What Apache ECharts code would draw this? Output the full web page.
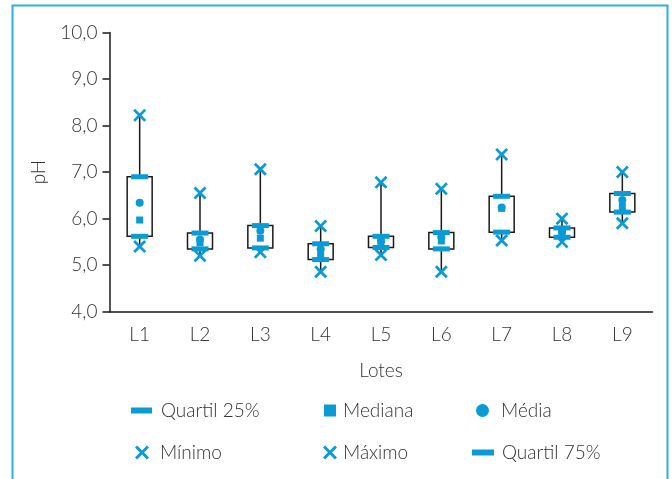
<!DOCTYPE html>
<html>
<head>
<meta charset="utf-8">
<script src="https://cdn.jsdelivr.net/npm/echarts@6/dist/echarts.min.js"></script>
<style>
  html, body { margin: 0; padding: 0; background: #fff; }
  #chart { width: 672px; height: 479px; }
</style>
</head>
<body>
<div id="chart"></div>
<script>
// lotes e valores de pH
var lotes = ['L1', 'L2', 'L3', 'L4', 'L5', 'L6', 'L7', 'L8', 'L9'];
var minimo   = [5.40, 5.20, 5.28, 4.86, 5.22, 4.86, 5.53, 5.50, 5.90];
var quartil25 = [5.62, 5.35, 5.37, 5.12, 5.38, 5.35, 5.71, 5.60, 6.14];
var mediana  = [5.97, 5.48, 5.58, 5.22, 5.48, 5.52, 6.22, 5.68, 6.26];
var media    = [6.34, 5.55, 5.74, 5.34, 5.52, 5.60, 6.24, 5.72, 6.40];
var quartil75 = [6.90, 5.69, 5.85, 5.46, 5.62, 5.70, 6.48, 5.80, 6.54];
var maximo   = [8.22, 6.55, 7.06, 5.84, 6.78, 6.64, 7.38, 6.00, 7.00];

var azul = '#0a9bd5';
var fonte = 'Lato';
var tamanho = 19;
var corTexto = '#333333';
var xSymbol = 'path://M0,1.5L1.5,0L5,3.5L8.5,0L10,1.5L6.5,5L10,8.5L8.5,10L5,6.5L1.5,10L0,8.5L3.5,5Z';

var caixas = lotes.map(function (l, i) {
  return [i, minimo[i], quartil25[i], quartil75[i], maximo[i]];
});

function pontos(arr) {
  return arr.map(function (v, i) { return [i, v]; });
}

function legenda(nome, icon, left, top, w, h, gap) {
  return {
    data: [{ name: nome, icon: icon }],
    left: left, top: top, padding: 0,
    itemWidth: w, itemHeight: h, itemGap: 0,
    textStyle: { fontFamily: fonte, fontSize: tamanho, fontWeight: 300, color: corTexto, padding: [0, 0, 0, gap - 5] },
    selectedMode: false
  };
}

var chart = echarts.init(document.getElementById('chart'));
var option = {
  animation: false,
  textStyle: { fontFamily: fonte },
  graphic: [{
    type: 'rect',
    shape: { x: 12.5, y: 5.5, width: 655, height: 520 },
    style: { fill: 'none', stroke: '#2eade3', lineWidth: 2 },
    silent: true
  }],
  grid: { left: 109.5, right: 19.5, top: 32.5, bottom: 167.3, outerBoundsMode: 'none' },
  legend: [
    legenda('Quartil 25%', 'rect', 131, 401, 21, 6, 9),
    legenda('Mediana', 'rect', 324, 401, 12, 12, 7),
    legenda('Média', 'circle', 476, 401, 13, 13, 12),
    legenda('Mínimo', xSymbol, 135, 443, 14, 14, 11),
    legenda('Máximo', xSymbol, 323, 443, 14, 14, 6),
    legenda('Quartil 75%', 'rect', 472, 443, 22, 6, 8)
  ],
  xAxis: {
    type: 'category',
    data: lotes,
    name: 'Lotes',
    nameLocation: 'middle',
    nameGap: 50,
    nameTextStyle: { fontFamily: fonte, fontSize: tamanho, fontWeight: 300, color: corTexto },
    axisLine: { lineStyle: { color: '#1a1a1a', width: 1.5 } },
    axisTick: { length: 5, lineStyle: { color: '#1a1a1a', width: 1.5 } },
    axisLabel: { margin: 14, fontFamily: fonte, fontSize: tamanho, fontWeight: 300, color: corTexto }
  },
  yAxis: {
    type: 'value',
    min: 4, max: 10, interval: 1,
    name: 'pH',
    nameLocation: 'middle',
    nameGap: 61,
    nameTextStyle: { fontFamily: fonte, fontSize: tamanho, fontWeight: 300, color: corTexto },
    axisLine: { show: true, lineStyle: { color: '#1a1a1a', width: 1.5 } },
    axisTick: { show: true, length: 7, lineStyle: { color: '#1a1a1a', width: 1.5 } },
    splitLine: { show: false },
    axisLabel: {
      margin: 12, fontFamily: fonte, fontSize: tamanho, fontWeight: 300, color: corTexto,
      formatter: function (v) { return v.toFixed(1).replace('.', ','); }
    }
  },
  series: [
    {
      type: 'custom',
      name: 'caixa',
      data: caixas,
      z: 1,
      renderItem: function (params, api) {
        var x = api.coord([api.value(0), 0])[0];
        var yMin = api.coord([api.value(0), api.value(1)])[1];
        var yQ1 = api.coord([api.value(0), api.value(2)])[1];
        var yQ3 = api.coord([api.value(0), api.value(3)])[1];
        var yMax = api.coord([api.value(0), api.value(4)])[1];
        var w = 25;
        var linha = { stroke: '#1a1a1a', lineWidth: 1.5 };
        return {
          type: 'group',
          children: [
            { type: 'line', shape: { x1: x, y1: yMax, x2: x, y2: yQ3 }, style: linha },
            { type: 'line', shape: { x1: x, y1: yQ1, x2: x, y2: yMin }, style: linha },
            { type: 'rect', shape: { x: x - w / 2, y: yQ3, width: w, height: yQ1 - yQ3 },
              style: { fill: '#fff', stroke: '#1a1a1a', lineWidth: 1.5 } }
          ]
        };
      }
    },
    { type: 'scatter', name: 'Quartil 25%', data: pontos(quartil25), symbol: 'rect', symbolSize: [17, 5], itemStyle: { color: azul, opacity: 1 }, z: 3 },
    { type: 'scatter', name: 'Mediana', data: pontos(mediana), symbol: 'rect', symbolSize: [7, 7], itemStyle: { color: azul, opacity: 1 }, z: 3 },
    { type: 'scatter', name: 'Média', data: pontos(media), symbol: 'circle', symbolSize: 8, itemStyle: { color: azul, opacity: 1 }, z: 3 },
    { type: 'scatter', name: 'Mínimo', data: pontos(minimo), symbol: xSymbol, symbolSize: 13, itemStyle: { color: azul, opacity: 1 }, z: 3 },
    { type: 'scatter', name: 'Máximo', data: pontos(maximo), symbol: xSymbol, symbolSize: 13, itemStyle: { color: azul, opacity: 1 }, z: 3 },
    { type: 'scatter', name: 'Quartil 75%', data: pontos(quartil75), symbol: 'rect', symbolSize: [17, 5], itemStyle: { color: azul, opacity: 1 }, z: 3 }
  ]
};
chart.setOption(option);
</script>
</body>
</html>
